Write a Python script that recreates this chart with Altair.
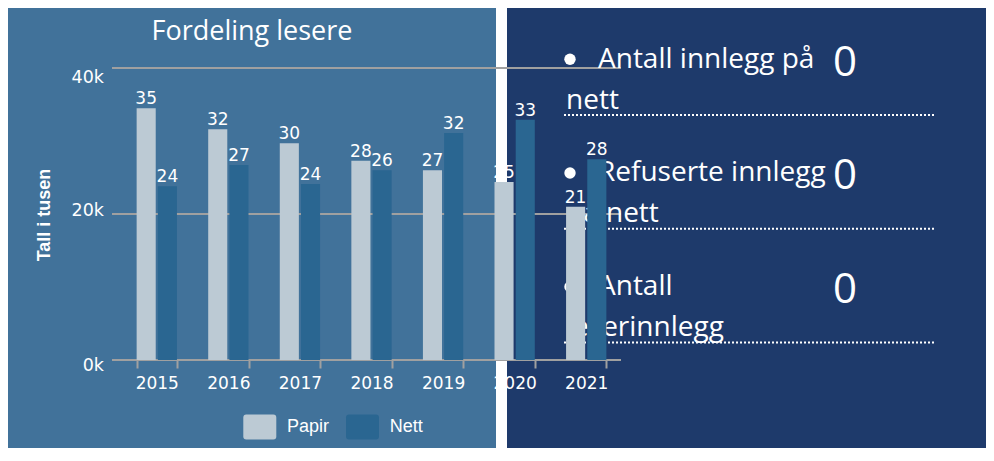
import altair as alt
import pandas as pd

# ---------------- data ----------------
years = ["2015", "2016", "2017", "2018", "2019", "2020", "2021"]
papir = [34.5, 31.6, 29.7, 27.3, 26.0, 24.4, 21.0]
nett = [23.8, 26.7, 24.1, 26.0, 31.1, 32.9, 27.5]
papir_labels = ["35", "32", "30", "28", "27", "25", "21"]
nett_labels = ["24", "27", "24", "26", "32", "33", "28"]
series = ["Papir", "Nett"]
y_ticks = [0, 20, 40]
y_tick_labels = ["0k", "20k", "40k"]
title_text = "Fordeling lesere"
y_title = "Tall i tusen"
list_line1 = ["Antall innlegg på", "Refuserte innlegg", "Antall"]
list_line2 = ["nett", "på nett", "leserinnlegg"]
list_values = ["0", "0", "0"]

# ---------------- styles / layout ----------------
LEFT_BG = "#41729A"
RIGHT_BG = "#1E3A6B"
PAPIR_C = "#BCCAD4"
NETT_C = "#2A6691"
GRID_C = "#A0A0A0"

PLOT_W, PLOT_H = 501, 292
PAD_L, PAD_T = 113, 60
TOTAL_W, TOTAL_H = 978, 440
PAD_R = TOTAL_W - PAD_L - PLOT_W
PAD_B = TOTAL_H - PAD_T - PLOT_H

rows = []
for i, yr in enumerate(years):
    rows.append({"År": yr, "Serie": "Papir", "Lesere": papir[i], "Etikett": papir_labels[i]})
    rows.append({"År": yr, "Serie": "Nett", "Lesere": nett[i], "Etikett": nett_labels[i]})
df = pd.DataFrame(rows)
one = pd.DataFrame({"a": [0]})


def px(page_x):
    return page_x - 8 - PAD_L


def py(page_y):
    return page_y - 8 - PAD_T


y_scale = alt.Scale(domain=[0, 40], nice=False)
layers = []

# backgrounds
layers.append(alt.Chart(one).mark_rect(color=LEFT_BG).encode(
    x=alt.value(px(8)), x2=alt.value(px(496)), y=alt.value(py(8)), y2=alt.value(py(8 + TOTAL_H))))
layers.append(alt.Chart(one).mark_rect(color=RIGHT_BG).encode(
    x=alt.value(px(507)), x2=alt.value(px(8 + TOTAL_W)), y=alt.value(py(8)),
    y2=alt.value(py(8 + TOTAL_H))))

# gridlines (incl. baseline)
grid_df = pd.DataFrame({"v": y_ticks, "lab": y_tick_labels})
layers.append(alt.Chart(grid_df).mark_rule(color=GRID_C, strokeWidth=2).encode(
    y=alt.Y("v:Q", axis=None, scale=y_scale), x=alt.value(px(112)), x2=alt.value(px(621))))

# y tick labels (text layer, one per tick with its own vertical nudge)
label_nudge = {0: 6, 20: -3, 40: 10}
for v, lab in zip(y_ticks, y_tick_labels):
    d = pd.DataFrame({"v": [v], "lab": [lab]})
    layers.append(alt.Chart(d).mark_text(
        font="DejaVu Sans", fontSize=17.5, color="white", align="right", baseline="middle",
        dy=label_nudge[v]).encode(
        y=alt.Y("v:Q", axis=None, scale=y_scale), x=alt.value(px(104)), text="lab:N"))

# y title
layers.append(alt.Chart(pd.DataFrame({"t": [y_title]})).mark_text(
    font="Liberation Sans", fontWeight="bold", fontSize=18, color="white", angle=270,
    align="center", baseline="middle").encode(
    x=alt.value(px(45)), y=alt.value(py(215)), text="t:N"))

# chart title
layers.append(alt.Chart(pd.DataFrame({"t": [title_text]})).mark_text(
    font="Open Sans", fontSize=27, color="white", align="center", baseline="alphabetic").encode(
    x=alt.value(px(252)), y=alt.value(py(40)), text="t:N"))

# right panel list
for i in range(len(list_line1)):
    L = 67.5 + 113.75 * i
    d = pd.DataFrame({"t1": [list_line1[i]], "t2": [list_line2[i]], "v": [list_values[i]]})
    base = alt.Chart(d)
    layers.append(base.mark_point(filled=True, shape="circle", size=130, color="white", opacity=1).encode(
        x=alt.value(px(570)), y=alt.value(py(L - 8.2))))
    layers.append(base.mark_text(font="Open Sans", fontSize=28, color="white", align="left",
                                 baseline="alphabetic").encode(
        x=alt.value(px(598)), y=alt.value(py(L)), text="t1:N"))
    layers.append(base.mark_text(font="Open Sans", fontSize=28, color="white", align="left",
                                 baseline="alphabetic").encode(
        x=alt.value(px(566)), y=alt.value(py(L + 41)), text="t2:N"))
    layers.append(base.mark_text(font="Open Sans", fontSize=42, color="white", align="center",
                                 baseline="alphabetic").encode(
        x=alt.value(px(845)), y=alt.value(py(L + 8)), text="v:N"))
    layers.append(base.mark_rule(color="white", strokeWidth=2, strokeDash=[2, 2]).encode(
        x=alt.value(px(564)), x2=alt.value(px(934)), y=alt.value(py(L + 47.5))))

# bars
sym_path = ("M-0.82,-0.758 H0.82 Q1,-0.758 1,-0.578 V0.578 Q1,0.758 0.82,0.758 "
            "H-0.82 Q-1,0.758 -1,0.578 V-0.578 Q-1,-0.758 -0.82,-0.758 Z")

x_axis = alt.Axis(title=None, labelAngle=0, tickBand="extent", domain=False,
                  tickColor=GRID_C, tickWidth=2, tickSize=8, labelPadding=7,
                  labelColor="white", labelFont="DejaVu Sans", labelFontSize=17,
                  grid=False, zindex=1)
x_enc = alt.X("År:N", sort=years,
              scale=alt.Scale(paddingInner=0.437, paddingOuter=0.2185), axis=x_axis)
xo_enc = alt.XOffset("Serie:N", sort=series, scale=alt.Scale(paddingInner=0.1, paddingOuter=0))

bars = alt.Chart(df).mark_bar().encode(
    x=x_enc, xOffset=xo_enc,
    y=alt.Y("Lesere:Q", axis=None, scale=y_scale),
    color=alt.Color("Serie:N", sort=series,
                    scale=alt.Scale(domain=series, range=[PAPIR_C, NETT_C]),
                    legend=alt.Legend(title=None, orient="none", legendX=122.3, legendY=342,
                                      direction="horizontal", symbolType=sym_path,
                                      symbolSize=1089, symbolStrokeWidth=0, symbolOpacity=1,
                                      labelFont="Liberation Sans", labelFontSize=18,
                                      labelColor="white", labelOffset=10.7,
                                      columnPadding=16.7, padding=0, zindex=1)))
layers.append(bars)

labels = alt.Chart(df).mark_text(font="DejaVu Sans", fontSize=17, color="white",
                                 baseline="alphabetic", dy=-4).encode(
    x=alt.X("År:N", sort=years, axis=x_axis), xOffset=alt.XOffset("Serie:N", sort=series),
    y=alt.Y("Lesere:Q", axis=None, scale=y_scale), text="Etikett:N")
layers.append(labels)

chart = alt.layer(*layers).properties(
    width=PLOT_W, height=PLOT_H,
    padding={"left": PAD_L, "top": PAD_T, "right": PAD_R, "bottom": PAD_B},
    autosize=alt.AutoSizeParams(type="none"),
    background="white",
).configure_view(stroke=None)

chart.save("out.html", embed_options={"renderer": "svg", "actions": False})
